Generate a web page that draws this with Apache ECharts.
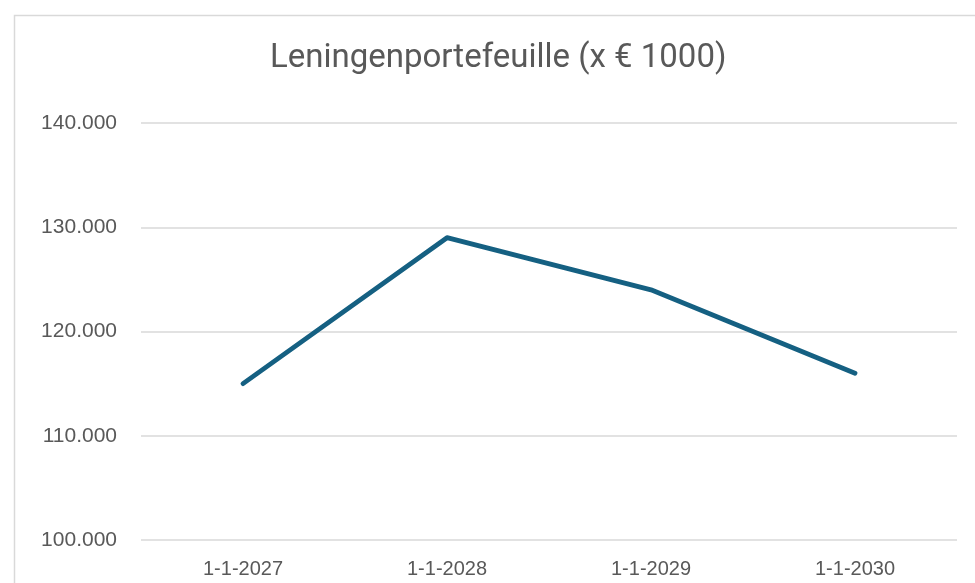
<!DOCTYPE html>
<html><head><meta charset="utf-8">
<script src="https://cdn.jsdelivr.net/npm/echarts@6/dist/echarts.min.js"></script>
<style>html,body{margin:0;padding:0;background:#fff;}#c{width:975px;height:583px;}</style>
</head><body><div id="c"></div>
<script>
var categories = ["1-1-2027", "1-1-2028", "1-1-2029", "1-1-2030"];
var values = [115, 129, 124, 116];
var titleText = "Leningenportefeuille (x € 1000)";

var chart = echarts.init(document.getElementById('c'), null, {renderer: 'canvas'});
chart.setOption({
  animation: false,
  backgroundColor: '#ffffff',
  graphic: [{
    type: 'rect', left: 12, top: 13,
    shape: {width: 1000, height: 700},
    style: {fill: 'none', stroke: '#d9d9d9', lineWidth: 1.5},
    silent: true
  }],
  title: {
    text: titleText, left: 265, top: 37,
    textStyle: {fontFamily: 'Roboto', fontSize: 33, fontWeight: 'normal', color: '#595959'}
  },
  grid: {left: 141, right: 18, top: 123, bottom: 43, containLabel: false},
  xAxis: {
    type: 'category', data: categories, boundaryGap: true,
    axisLine: {show: false}, axisTick: {show: false},
    axisLabel: {color: '#595959', fontFamily: 'Liberation Sans', fontSize: 20, margin: 19}
  },
  yAxis: {
    type: 'value', min: 100, max: 140, interval: 10,
    axisLine: {show: false}, axisTick: {show: false},
    splitLine: {lineStyle: {color: '#d9d9d9', width: 1.5}},
    axisLabel: {color: '#595959', fontFamily: 'Liberation Sans', fontSize: 21, margin: 24,
      formatter: function(v){ return v.toFixed(0) + '.000'; }}
  },
  series: [{
    type: 'line', data: values, symbol: 'none',
    lineStyle: {color: '#156082', width: 4.8, cap: 'round', join: 'round'}
  }]
});
</script></body></html>
